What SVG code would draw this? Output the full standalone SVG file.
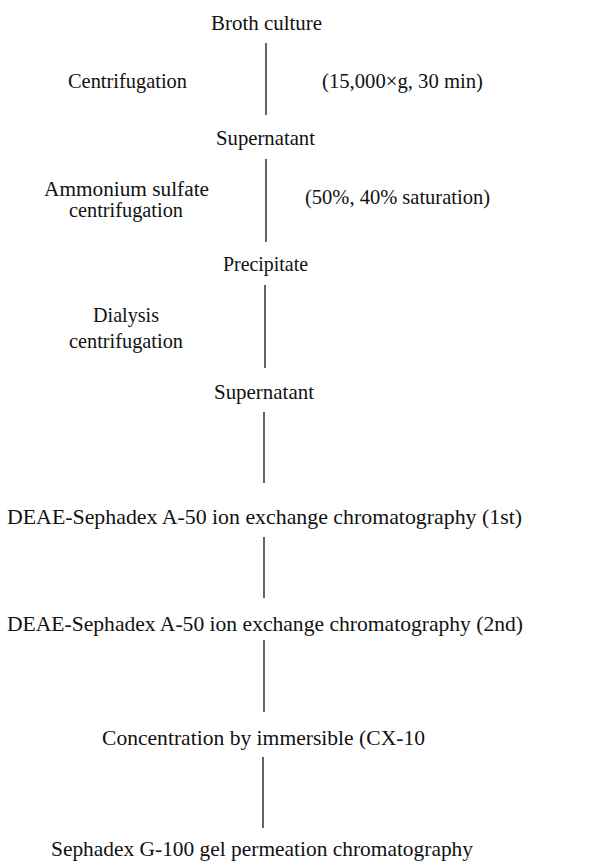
<svg xmlns="http://www.w3.org/2000/svg" width="602" height="866" viewBox="0 0 602 866">
<style>
text{font-family:"Liberation Serif","Times New Roman",serif;font-size:22px;fill:#111}
.s{font-size:20px}
.c{stroke:#111;stroke-width:1.3;fill:none}
</style>
<rect width="602" height="866" fill="#fff"/>
<g id="connectors">
<line class="c" x1="266" y1="43" x2="266" y2="115"/>
<line class="c" x1="266" y1="159" x2="266" y2="242"/>
<line class="c" x1="265" y1="285" x2="265" y2="368"/>
<line class="c" x1="264" y1="412" x2="264" y2="483"/>
<line class="c" x1="264" y1="537" x2="264" y2="598"/>
<line class="c" x1="264" y1="640" x2="264" y2="712"/>
<line class="c" x1="263" y1="757" x2="263" y2="828"/>
</g>
<g id="broth"><text x="211" y="30" textLength="111" lengthAdjust="spacingAndGlyphs">Broth culture</text></g>
<g id="centrifugation1"><text x="68" y="88" textLength="119" lengthAdjust="spacingAndGlyphs">Centrifugation</text></g>
<g id="cond1"><text x="322" y="88" textLength="161" lengthAdjust="spacingAndGlyphs">(15,000×g, 30 min)</text></g>
<g id="supernatant1"><text x="216" y="145" textLength="99" lengthAdjust="spacingAndGlyphs">Supernatant</text></g>
<g id="ammonium"><text class="s" x="44" y="196" textLength="165" lengthAdjust="spacingAndGlyphs">Ammonium sulfate</text><text class="s" x="69" y="217" textLength="114" lengthAdjust="spacingAndGlyphs">centrifugation</text></g>
<g id="cond2"><text x="305" y="204" textLength="185" lengthAdjust="spacingAndGlyphs">(50%, 40% saturation)</text></g>
<g id="precipitate"><text x="223" y="271" textLength="85" lengthAdjust="spacingAndGlyphs">Precipitate</text></g>
<g id="dialysis"><text x="93" y="322" textLength="66" lengthAdjust="spacingAndGlyphs">Dialysis</text><text x="69" y="348" textLength="114" lengthAdjust="spacingAndGlyphs">centrifugation</text></g>
<g id="supernatant2"><text x="214" y="399" textLength="100" lengthAdjust="spacingAndGlyphs">Supernatant</text></g>
<g id="deae1"><text x="7" y="524" textLength="515" lengthAdjust="spacingAndGlyphs">DEAE-Sephadex A-50 ion exchange chromatography (1st)</text></g>
<g id="deae2"><text x="7" y="631" textLength="516" lengthAdjust="spacingAndGlyphs">DEAE-Sephadex A-50 ion exchange chromatography (2nd)</text></g>
<g id="concentration"><text x="102" y="745" textLength="323" lengthAdjust="spacingAndGlyphs">Concentration by immersible (CX-10</text></g>
<g id="sephadex"><text x="51" y="856" textLength="422" lengthAdjust="spacingAndGlyphs">Sephadex G-100 gel permeation chromatography</text></g>
</svg>
